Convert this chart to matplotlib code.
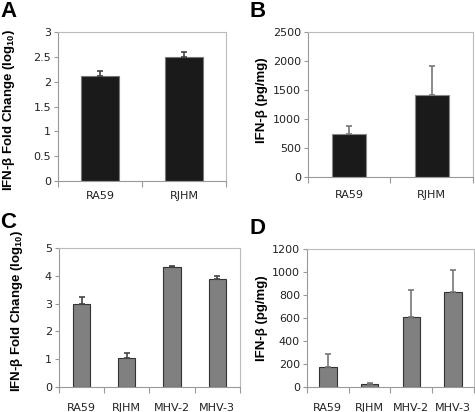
import numpy as np
from matplotlib import pyplot as plt

plt.rcParams['mathtext.default'] = 'regular'

# panel A: fold change (log10)
a_names = ['RA59', 'RJHM']
a_vals = [2.12, 2.50]
a_errs = [0.10, 0.10]

# panel B: IFN-beta protein
b_names = ['RA59', 'RJHM']
b_vals = [750, 1410]
b_errs = [135, 510]

# panel C: fold change (log10), four viruses
c_names = ['RA59', 'RJHM', 'MHV-2', 'MHV-3']
c_vals = [3.0, 1.05, 4.3, 3.88]
c_errs = [0.25, 0.18, 0.05, 0.10]

# panel D: IFN-beta protein, four viruses
d_names = ['RA59', 'RJHM', 'MHV-2', 'MHV-3']
d_vals = [175, 25, 610, 825]
d_errs = [115, 10, 235, 190]

fold_label = 'IFN-β Fold Change (log$_{10}$)'
pg_label = 'IFN-β (pg/mg)'

fig = plt.figure(figsize=(4.75, 4.12), dpi=100)


def panel(rect, names, vals, errs, color, edge, errcolor, width, ylim, yticks,
          ylabel, label_xy, xpad):
    ax = fig.add_axes(rect)
    x = np.arange(len(names))
    ax.bar(x, vals, width=width, color=color, edgecolor=edge, linewidth=0.8, zorder=2)
    ax.errorbar(x, vals, yerr=[np.zeros(len(vals)), errs], fmt='none',
                ecolor=errcolor, elinewidth=1.2, capsize=2.5, capthick=1.2, zorder=3)
    ax.set_xlim(-0.5, len(names) - 0.5)
    ax.set_ylim(*ylim)
    ax.set_yticks(yticks)
    ax.set_yticklabels([f'{t:g}' for t in yticks])
    ax.set_xticks(x)
    ax.set_xticklabels(names)
    ax.set_xticks(np.arange(len(names) + 1) - 0.5, minor=True)
    ax.tick_params(axis='x', which='major', length=0, pad=xpad, labelsize=8, labelcolor='#222222')
    ax.tick_params(axis='x', which='minor', length=4, color='#999999', width=0.8)
    ax.tick_params(axis='y', length=3, color='#999999', width=0.8, labelsize=8,
                   labelcolor='#222222', pad=2)
    for s in ['left', 'bottom']:
        ax.spines[s].set_color('#999999')
        ax.spines[s].set_linewidth(0.8)
    for s in ['top', 'right']:
        ax.spines[s].set_color('#bbbbbb')
        ax.spines[s].set_linewidth(0.8)
    ax.set_ylabel(ylabel, fontsize=9.5, fontweight='bold', family='Liberation Sans')
    ax.yaxis.set_label_coords(*label_xy)
    return ax


panel([0.122, 0.561, 0.354, 0.361], a_names, a_vals, a_errs, '#1a1a1a', '#777777',
      '#444444', 0.46, (0, 3), [0, 0.5, 1, 1.5, 2, 2.5, 3], fold_label, (-0.245, 0.48), 7)
panel([0.648, 0.570, 0.348, 0.352], b_names, b_vals, b_errs, '#1a1a1a', '#888888',
      '#777777', 0.41, (0, 2500), [0, 500, 1000, 1500, 2000, 2500], pg_label, (-0.24, 0.53), 9.5)
panel([0.124, 0.061, 0.381, 0.337], c_names, c_vals, c_errs, '#808080', '#333333',
      '#444444', 0.38, (0, 5), [0, 1, 2, 3, 4, 5], fold_label, (-0.19, 0.55), 11.5)
panel([0.646, 0.061, 0.352, 0.335], d_names, d_vals, d_errs, '#808080', '#333333',
      '#777777', 0.42, (0, 1200), [0, 200, 400, 600, 800, 1000, 1200], pg_label, (-0.23, 0.5), 11.5)

for lx, ly, t in [(0.0, 0.998, 'A'), (0.525, 0.998, 'B'), (0.0, 0.485, 'C'), (0.525, 0.472, 'D')]:
    fig.text(lx, ly, t, fontsize=16, fontweight='bold', va='top', ha='left',
             family='Liberation Sans')

plt.savefig('out.png', dpi=100)
